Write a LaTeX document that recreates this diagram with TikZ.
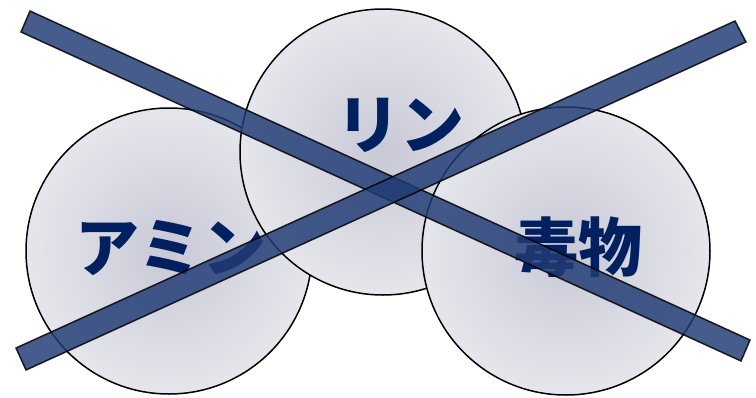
\documentclass[tikz,border=0pt]{standalone}
\usepackage{fontspec}
\newfontfamily\jp{Noto Sans CJK JP}
\definecolor{navy}{RGB}{0,32,96}
\definecolor{cin}{RGB}{200,201,214}
\definecolor{cout}{RGB}{245,245,247}
\definecolor{barfill}{RGB}{33,59,117}
\pgfdeclareradialshading{disc}{\pgfpoint{0bp}{0bp}}{color(0bp)=(cin); color(38bp)=(cout); color(60bp)=(cout)}
\tikzset{
  disc/.style={draw=black, line width=1.5pt, shading=disc},
  label/.style={font=\jp\bfseries\fontsize{64}{70}\selectfont, text=navy, inner sep=0pt},
  bar/.style={draw=black, line width=1.5pt, fill=barfill, opacity=0.83, line join=miter}
}
\begin{document}
\begin{tikzpicture}[x=1pt,y=-1pt]
\useasboundingbox (0,0) rectangle (756,397);
\path[disc] (169,251) circle (143);
\path[disc] (383,152) circle (143);
\path[disc] (566,251) circle (144);
\node[label] (amin) at (171,248) {アミン};
\node[label] (rin) at (400,125) {リン};
\node[label] (doku) at (578,247) {毒物};
\draw[bar] (30,11) -- (750,340) -- (741,361) -- (21,32) -- cycle;
\draw[bar] (16,348) -- (735,21) -- (746,42) -- (26,370) -- cycle;
\end{tikzpicture}
\end{document}
